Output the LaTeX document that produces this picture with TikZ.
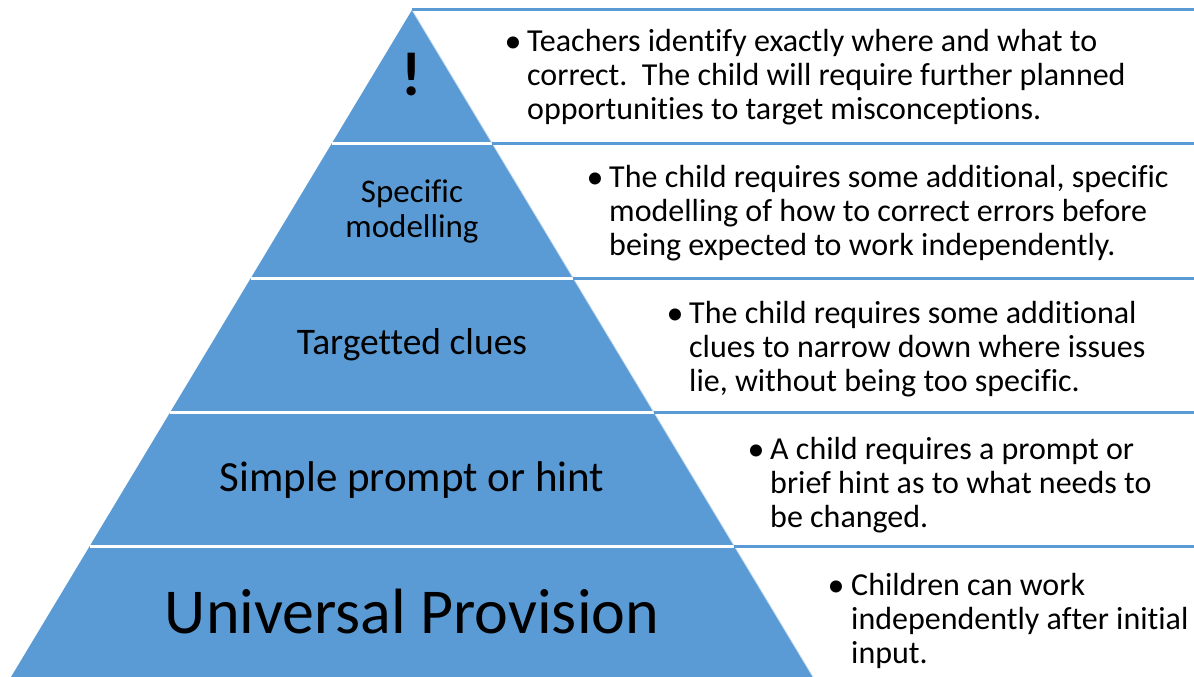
\documentclass[tikz,border=0pt]{standalone}
\usepackage{fontspec}
\setmainfont{Carlito}[Ligatures=NoCommon]
\usepackage{tikz}
\usetikzlibrary{shapes,arrows,positioning}
\definecolor{pyrblue}{HTML}{5B9BD5}
\definecolor{edgeblue}{HTML}{C9DDF1}

\begin{document}
\begin{tikzpicture}[x=1pt, y=-1pt]
        \tikzstyle{level} = [text=black, align=center, inner sep=0pt]
        \tikzstyle{note} = [text=black, align=left, anchor=base west, inner sep=0pt, font=\fontsize{32}{34.2}\selectfont]
        \tikzstyle{dot} = [text=black, inner sep=0pt, anchor=base, font=\fontsize{34}{34.2}\selectfont]
        \tikzstyle{sep} = [draw=white, line width=3pt]
        \tikzstyle{rule} = [draw=pyrblue, line width=3pt]

    \useasboundingbox (0,0) rectangle (1194,677);

    % pyramid corners
    \coordinate (apex) at (412,10);
    \coordinate (baseL) at (11,677);
    \coordinate (baseR) at (813,677);
    \fill[pyrblue] (apex) -- (baseL) -- (baseR) -- cycle;

    % band edges
    \coordinate (l1) at (331.8,143.5);  \coordinate (r1) at (492.2,143.5);
    \coordinate (l2) at (250.9,278);    \coordinate (r2) at (573.1,278);
    \coordinate (l3) at (170.4,412);    \coordinate (r3) at (653.6,412);
    \coordinate (l4) at (89.9,546);     \coordinate (r4) at (734.1,546);
    \coordinate (e0) at (1194,10);
    \coordinate (e1) at (1194,143.5);
    \coordinate (e2) at (1194,278);
    \coordinate (e3) at (1194,412);
    \coordinate (e4) at (1194,546);

    \foreach \i in {1,...,4}
        \path [sep] (l\i) -- (r\i);
    \draw[edgeblue, line width=0.8pt] (apex) -- (baseR);
    \path [rule] (apex) -- (e0);
    \foreach \i in {1,...,4}
        \path [rule] (r\i) -- (e\i);

    % pyramid labels
    \node [level, font=\fontsize{62}{62}\bfseries] (alert) at (412,75) {!};
    \node [level, font=\fontsize{33}{35}\selectfont] (modelling) at (412,211) {Specific\\modelling};
    \node [level, font=\fontsize{37.5}{40}\selectfont] (clues) at (412,345) {Targetted clues};
    \node [level, font=\fontsize{43}{46}\selectfont] (prompt) at (412,480) {Simple prompt or hint};
    \node [level, font=\fontsize{64}{70}\selectfont] (universal) at (412,612) {Universal Provision};

    % notes on the right (base = last line)
    \node [note] (note1) at (527,119.4) {Teachers identify exactly where and what to\\correct.\ \ The child will require further planned\\opportunities to target misconceptions.};
    \node [note] (note2) at (609,255.4) {The child requires some additional, specific\\modelling of how to correct errors before\\being expected to work independently.};
    \node [note] (note3) at (689,391.4) {The child requires some additional\\clues to narrow down where issues\\lie, without being too specific.};
    \node [note] (note4) at (770,527.4) {A child requires a prompt or\\brief hint as to what needs to\\be changed.};
    \node [note] (note5) at (851,663.4) {Children can work\\independently after initial\\input.};

    \node [dot] (dot1) at (513,52.5) {\textbullet};
    \node [dot] (dot2) at (595,188.5) {\textbullet};
    \node [dot] (dot3) at (675,324.5) {\textbullet};
    \node [dot] (dot4) at (756,460.5) {\textbullet};
    \node [dot] (dot5) at (836,596.5) {\textbullet};
\end{tikzpicture}
\end{document}
